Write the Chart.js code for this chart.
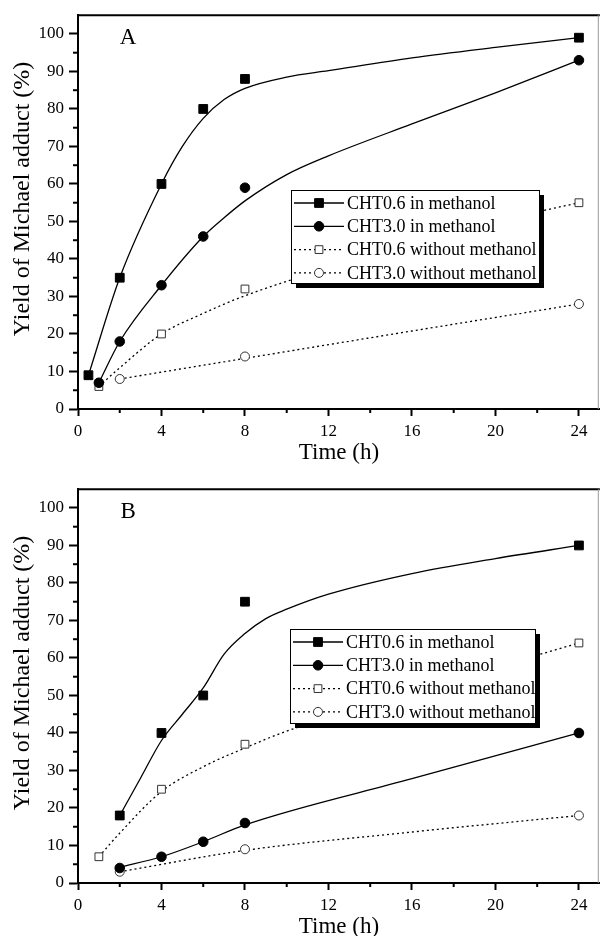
<!DOCTYPE html>
<html>
<head>
<meta charset="utf-8">
<script src="https://cdn.jsdelivr.net/npm/chart.js@4.4.1/dist/chart.umd.min.js"></script>
<style>
  html, body { margin: 0; padding: 0; background: #fff; overflow: hidden; }
  #wrap { position: relative; width: 607px; height: 936px; overflow: hidden; }
  canvas { position: absolute; left: 0; }
  #chartA { top: 0; }
  #chartB { top: 474px; }
</style>
</head>
<body>
<div id="wrap">
  <canvas id="chartA" width="607" height="468"></canvas>
  <canvas id="chartB" width="607" height="468"></canvas>
</div>
<script>
// tick values
const xTicks = [0, 4, 8, 12, 16, 20, 24];
const xMinor = [2, 6, 10, 14, 18, 22];
const yTicks = [0, 10, 20, 30, 40, 50, 60, 70, 80, 90, 100];
const yMinor = [5, 15, 25, 35, 45, 55, 65, 75, 85, 95];

const seriesNames = [
  'CHT0.6 in methanol',
  'CHT3.0 in methanol',
  'CHT0.6 without methanol',
  'CHT3.0 without methanol'
];

// panel A, measured points
const aTimeSq = [0.5, 2, 4, 6, 8, 24];
const aYieldSq = [9, 35, 60, 80, 88, 99];
const aTimeCi = [1, 2, 4, 6, 8, 24];
const aYieldCi = [7, 18, 33, 46, 59, 93];
const aTimeOpenSq = [1, 4, 8, 24];
const aYieldOpenSq = [6, 20, 32, 55];
const aTimeOpenCi = [2, 8, 24];
const aYieldOpenCi = [8, 14, 28];

// panel A, fitted curves
const aFitSqX = [0.5, 2, 4, 5, 6, 7, 8, 10, 12, 16, 20, 24];
const aFitSqY = [9, 35, 60, 70, 77.5, 82.5, 85.5, 88.5, 90.2, 93.6, 96.4, 99];
const aFitCiX = [1, 2, 4, 6, 7, 8, 10, 12, 16, 20, 24];
const aFitCiY = [7, 18, 33, 46, 51, 55.5, 62.5, 67.5, 76, 84.3, 93];
const aFitOpenSqX = [1, 2, 4, 6, 8, 12, 16, 20, 24];
const aFitOpenSqY = [6, 11, 20, 25.5, 30.2, 37.5, 44, 50, 55];
const aFitOpenCiX = [2, 8, 16, 24];
const aFitOpenCiY = [8, 13.5, 20.8, 28];

// panel B, measured points
const bTimeSq = [2, 4, 6, 8, 24];
const bYieldSq = [18, 40, 50, 75, 90];
const bTimeCi = [2, 4, 6, 8, 24];
const bYieldCi = [4, 7, 11, 16, 40];
const bTimeOpenSq = [1, 4, 8, 24];
const bYieldOpenSq = [7, 25, 37, 64];
const bTimeOpenCi = [2, 8, 24];
const bYieldOpenCi = [3, 9, 18];

// panel B, fitted curves
const bFitSqX = [2, 3, 4, 5, 6, 7, 8, 9, 10, 12, 16, 20, 24];
const bFitSqY = [18, 28, 38, 45, 52, 61, 66.5, 70.5, 73, 77, 82.5, 86.5, 90];
const bFitCiX = [2, 4, 6, 8, 16, 24];
const bFitCiY = [4.2, 7, 11, 15.5, 27.8, 40];
const bFitOpenSqX = [1, 2, 4, 6, 8, 10, 12, 16, 20, 24];
const bFitOpenSqY = [7, 13.3, 24.4, 31, 36, 40.5, 44, 51, 57.5, 64];
const bFitOpenCiX = [2, 8, 16, 24];
const bFitOpenCiY = [3, 8.7, 13.6, 18];

const FONT = 'Liberation Serif';

const looks = [
  { pointStyle: 'rect', radius: 6.2, fill: '#000', stroke: '#000', dash: [] },
  { pointStyle: 'circle', radius: 4.8, fill: '#000', stroke: '#000', dash: [] },
  { pointStyle: 'rect', radius: 5.5, fill: '#fff', stroke: '#333', dash: [2, 3] },
  { pointStyle: 'circle', radius: 4.5, fill: '#fff', stroke: '#333', dash: [2, 3] }
];

const pairs = (xs, ys) => xs.map((x, k) => ({ x: x, y: ys[k] }));

function makeSets(points, fits) {
  const marks = points.map(([xs, ys], i) => ({
    label: seriesNames[i],
    data: pairs(xs, ys),
    showLine: false,
    order: 0,
    pointStyle: looks[i].pointStyle,
    pointRadius: looks[i].radius,
    pointBackgroundColor: looks[i].fill,
    pointBorderColor: looks[i].stroke,
    pointBorderWidth: 1
  }));
  const curves = fits.map(([xs, ys], i) => ({
    label: seriesNames[i] + ' fit',
    data: pairs(xs, ys),
    order: 1,
    borderColor: '#000',
    borderWidth: 1.3,
    borderDash: looks[i].dash,
    cubicInterpolationMode: 'monotone',
    pointRadius: 0
  }));
  return marks.concat(curves);
}

// frame, minor ticks, y title, panel letter and boxed legend
const extras = {
  id: 'extras',
  afterDraw(chart, args, opts) {
    const { ctx, chartArea: a, scales: { x, y } } = chart;
    const seg = (x1, y1, x2, y2) => {
      ctx.beginPath(); ctx.moveTo(x1, y1); ctx.lineTo(x2, y2); ctx.stroke();
    };
    ctx.save();
    ctx.strokeStyle = '#000';
    ctx.lineWidth = 2;
    seg(a.left, a.top, a.right, a.top);
    xMinor.forEach(v => {
      const px = x.getPixelForValue(v);
      seg(px, a.bottom, px, a.bottom + 4);
    });
    yMinor.forEach(v => {
      const py = y.getPixelForValue(v);
      seg(a.left - 5, py, a.left, py);
    });
    ctx.strokeStyle = '#999';
    ctx.lineWidth = 1;
    seg(a.right - 1.5, a.top, a.right - 1.5, a.bottom);

    ctx.fillStyle = '#000';
    ctx.textAlign = 'center';
    ctx.textBaseline = 'middle';
    ctx.font = '23px "' + FONT + '"';
    ctx.fillText(opts.letter, x.getPixelForValue(2.4), y.getPixelForValue(99));

    // y axis title, a little above the middle as in the figure
    ctx.save();
    ctx.translate(23, y.getPixelForValue(56));
    ctx.rotate(-Math.PI / 2);
    ctx.font = '24px "' + FONT + '"';
    ctx.fillText('Yield of Michael adduct (%)', 0, 0);
    ctx.restore();

    // legend box with drop shadow
    const b = opts.box;
    ctx.fillStyle = '#000';
    ctx.fillRect(b.x + 5, b.y + 5, b.w, b.h);
    ctx.fillStyle = '#fff';
    ctx.fillRect(b.x, b.y, b.w, b.h);
    ctx.strokeStyle = '#000';
    ctx.lineWidth = 1;
    ctx.strokeRect(b.x + 0.5, b.y + 0.5, b.w, b.h);

    ctx.font = '18px "' + FONT + '"';
    ctx.textAlign = 'left';
    seriesNames.forEach((name, i) => {
      const lk = looks[i];
      const ry = b.y + 13 + i * 23.3;
      ctx.strokeStyle = '#000';
      ctx.lineWidth = 1.3;
      ctx.setLineDash(lk.dash);
      seg(b.x + 3, ry, b.x + 53, ry);
      ctx.setLineDash([]);
      ctx.fillStyle = lk.fill;
      ctx.strokeStyle = lk.stroke;
      ctx.lineWidth = 1;
      Chart.helpers.drawPoint(ctx, {
        pointStyle: lk.pointStyle, radius: lk.radius, rotation: 0, borderWidth: 1
      }, b.x + 28, ry);
      ctx.fillStyle = '#000';
      ctx.fillText(name, b.x + 56, ry + 1);
    });
    ctx.restore();
  }
};

function makeChart(id, sets, letter, box) {
  return new Chart(document.getElementById(id), {
    type: 'line',
    data: { datasets: sets },
    plugins: [extras],
    options: {
      responsive: false,
      animation: false,
      devicePixelRatio: 1,
      layout: { padding: { top: 14, right: 0, left: 0, bottom: 0 } },
      plugins: {
        legend: { display: false },
        tooltip: { enabled: false },
        extras: { letter: letter, box: box }
      },
      scales: {
        x: {
          type: 'linear',
          min: 0,
          max: 25,
          afterBuildTicks: s => { s.ticks = xTicks.map(v => ({ value: v })); },
          afterFit: s => { s.height = 59; },
          grid: { drawOnChartArea: false, tickLength: 7, tickWidth: 2, color: '#000' },
          border: { color: '#000', width: 2 },
          ticks: {
            color: '#000', padding: 5, maxRotation: 0, autoSkip: false,
            font: { family: FONT, size: 17 }
          },
          title: {
            display: true, text: 'Time (h)', color: '#000',
            font: { family: FONT, size: 23 }, padding: { top: 0, bottom: 1 }
          }
        },
        y: {
          min: 0,
          max: 105,
          afterBuildTicks: s => { s.ticks = yTicks.map(v => ({ value: v })); },
          afterFit: s => { s.width = 78; },
          grid: { drawOnChartArea: false, tickLength: 9, tickWidth: 2, color: '#000' },
          border: { color: '#000', width: 2 },
          ticks: {
            color: '#000', padding: 5,
            font: { family: FONT, size: 17 }
          }
        }
      }
    }
  });
}

makeChart('chartA', makeSets([
  [aTimeSq, aYieldSq],
  [aTimeCi, aYieldCi],
  [aTimeOpenSq, aYieldOpenSq],
  [aTimeOpenCi, aYieldOpenCi]
], [
  [aFitSqX, aFitSqY],
  [aFitCiX, aFitCiY],
  [aFitOpenSqX, aFitOpenSqY],
  [aFitOpenCiX, aFitOpenCiY]
]), 'A', { x: 291, y: 190, w: 248, h: 93 });

makeChart('chartB', makeSets([
  [bTimeSq, bYieldSq],
  [bTimeCi, bYieldCi],
  [bTimeOpenSq, bYieldOpenSq],
  [bTimeOpenCi, bYieldOpenCi]
], [
  [bFitSqX, bFitSqY],
  [bFitCiX, bFitCiY],
  [bFitOpenSqX, bFitOpenSqY],
  [bFitOpenCiX, bFitOpenCiY]
]), 'B', { x: 290, y: 155, w: 245, h: 94 });
</script>
</body>
</html>
